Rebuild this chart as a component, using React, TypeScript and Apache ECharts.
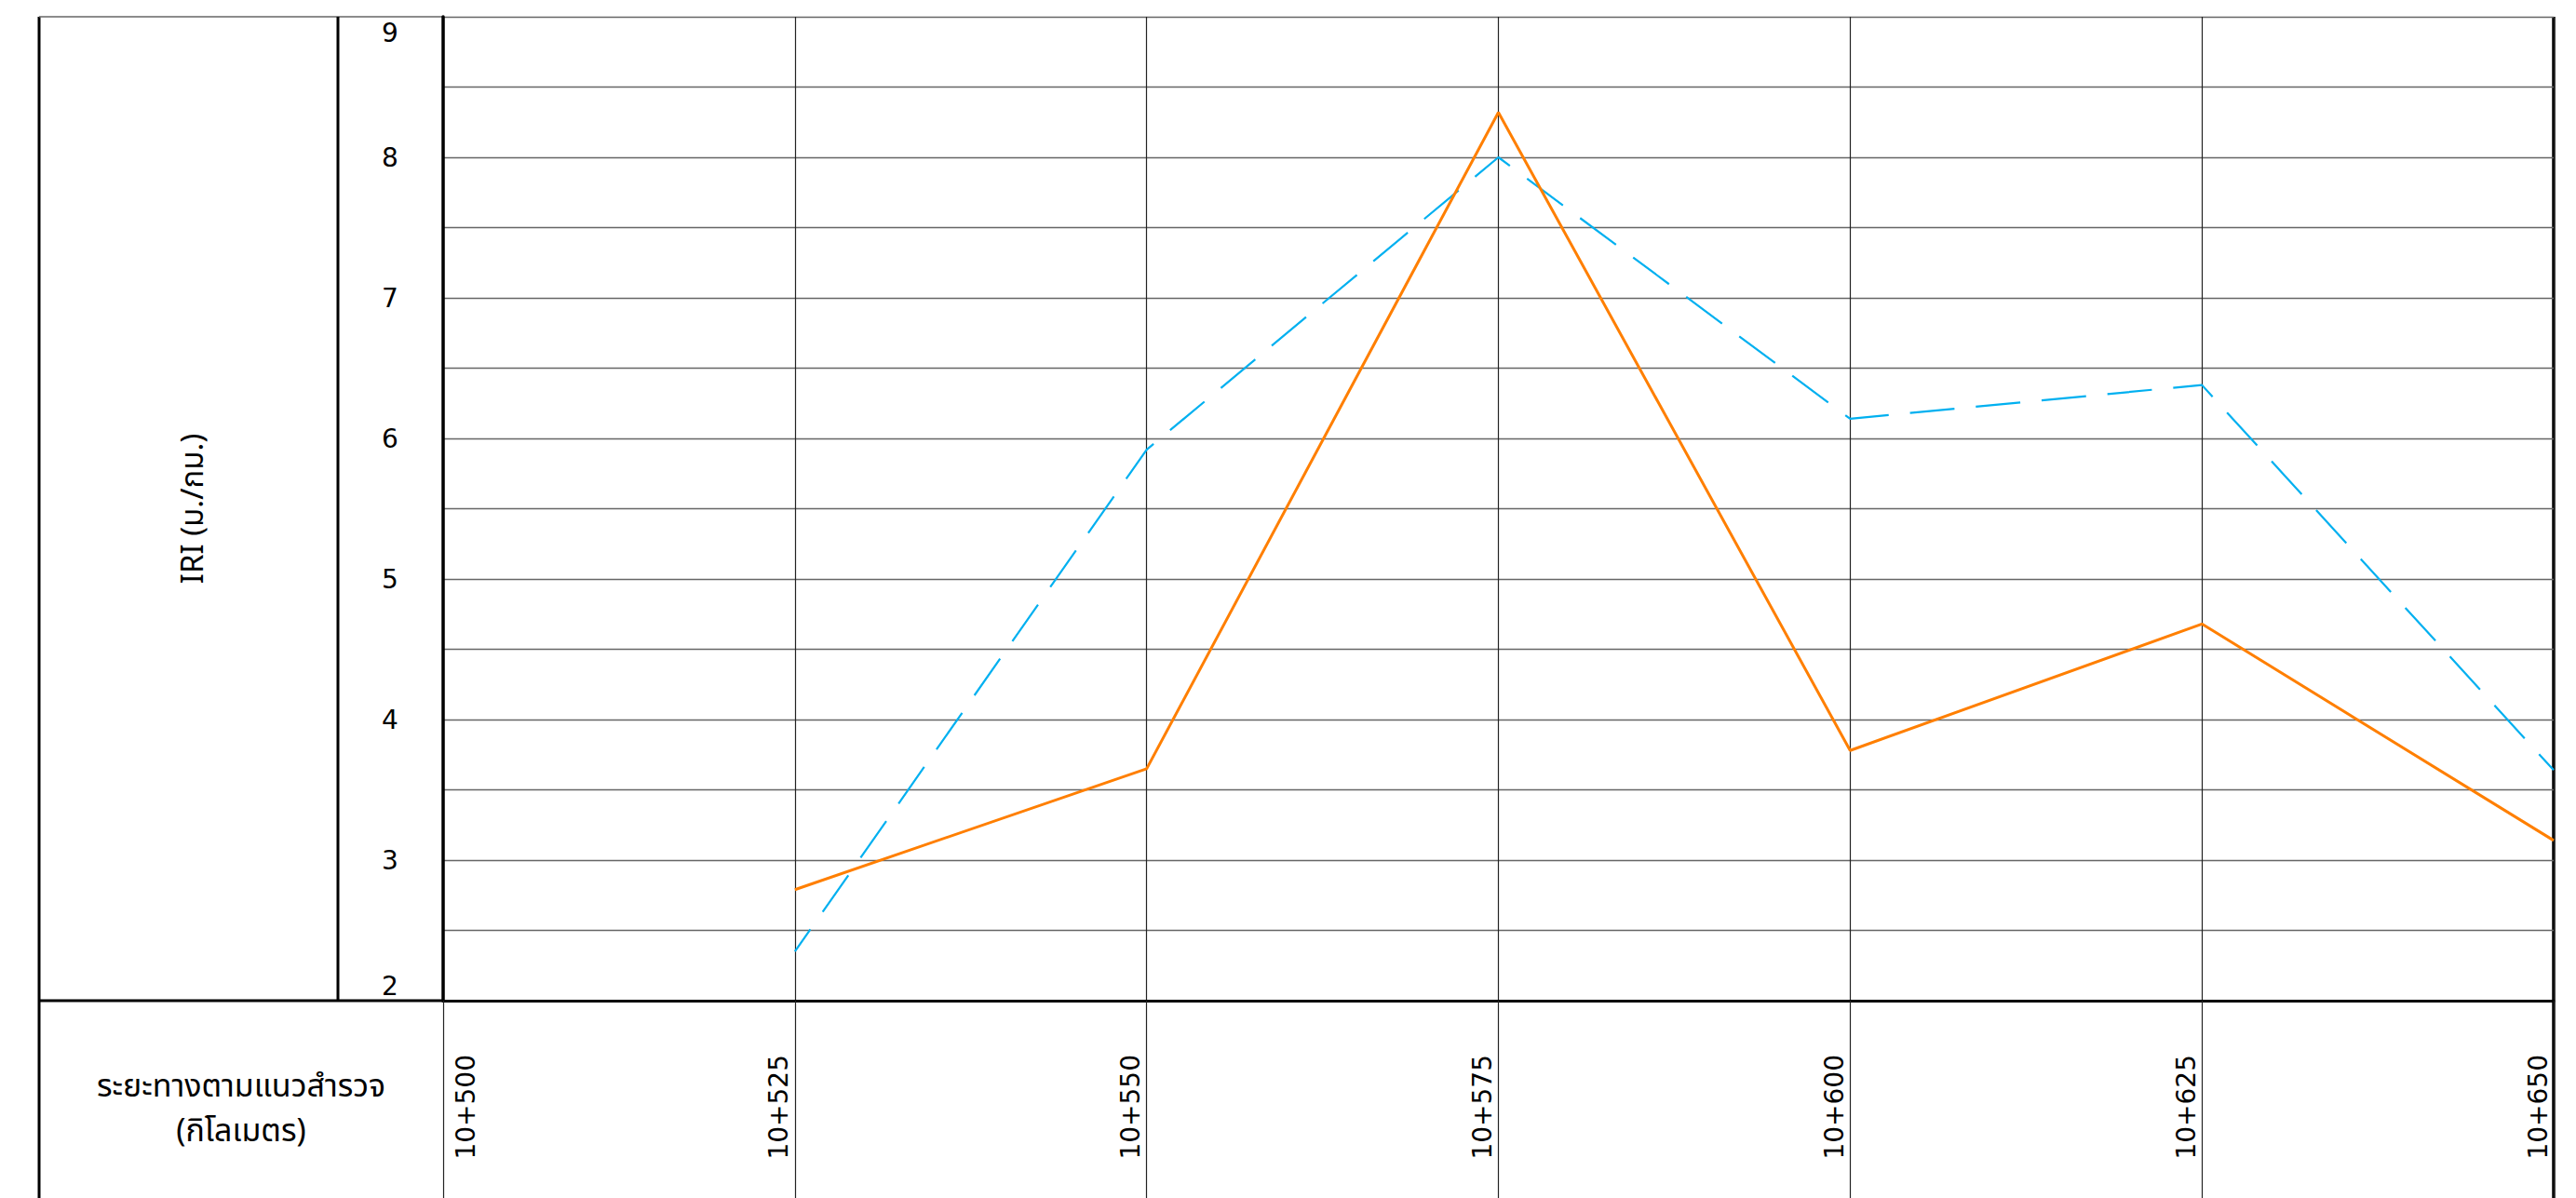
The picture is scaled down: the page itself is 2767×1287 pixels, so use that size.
import React, { useEffect, useRef } from 'react';
import * as echarts from 'echarts';

// ---- data ----
const categories = ['10+500', '10+525', '10+550', '10+575', '10+600', '10+625', '10+650'];
const seriesOrange: (number | null)[] = [null, 2.79, 3.65, 8.32, 3.78, 4.68, 3.14];
const seriesBlue: (number | null)[] = [null, 2.35, 5.92, 8.0, 6.14, 6.38, 3.64];
const yMin = 2;
const yMax = 9;
const yInterval = 1;
const yAxisTitle = 'IRI (ม./กม.)';
const xAxisTitleLines = ['ระยะทางตามแนวสำรวจ', '(กิโลเมตร)'];

const NUM_FONT = '"DejaVu Sans", "Noto Sans", sans-serif';
const THAI_FONT = '"Noto Sans Thai", "Noto Sans Thai UI", "Loma", "Garuda", "Norasi", "Noto Sans", sans-serif';

export default function App() {
  const ref = useRef<HTMLDivElement>(null);

  useEffect(() => {
    if (!ref.current) return;
    const chart = echarts.init(ref.current, null, { renderer: 'svg' });
    const W = 2767;
    const H = 1287;
    const gl = 476;
    const gt = 18;
    const gr = 2743;
    const gb = 1075;
    const outerL = 42;
    const divX = 363;
    const titleX = (outerL + gl) / 2 - 0;

    const option: any = {
      animation: false,
      backgroundColor: '#ffffff',
      grid: { left: gl, top: gt, right: W - gr, bottom: H - gb, show: false },
      xAxis: {
        type: 'category',
        data: categories,
        boundaryGap: false,
        axisLine: { show: true, lineStyle: { color: '#000', width: 3 } },
        axisTick: { show: true, alignWithLabel: true, length: H - gb, lineStyle: { color: '#222', width: 1.2 } },
        splitLine: { show: true, lineStyle: { color: '#222', width: 1.2 } },
        axisLabel: {
          interval: 0,
          rotate: 90,
          margin: 58,
          color: '#000',
          fontSize: 28,
          fontFamily: NUM_FONT,
          formatter: (v: string, i: number) => (i === 0 ? `{f|${v}}` : `{a|${v}}`),
          rich: {
            f: { fontSize: 28, fontFamily: NUM_FONT, color: '#000', padding: [48, 0, 0, 0] },
            a: { fontSize: 28, fontFamily: NUM_FONT, color: '#000', padding: [0, 0, 34, 0] },
          },
        },
      },
      yAxis: {
        type: 'value',
        min: yMin,
        max: yMax,
        interval: yInterval,
        name: yAxisTitle,
        nameLocation: 'middle',
        nameRotate: 90,
        nameGap: 252,
        nameTextStyle: { color: '#000', fontSize: 33, fontFamily: THAI_FONT },
        axisLine: { show: true, lineStyle: { color: '#000', width: 3.5 } },
        axisTick: { show: false },
        splitLine: { show: true, lineStyle: { color: '#666', width: 1.3 } },
        minorTick: { show: false, splitNumber: 2 },
        minorSplitLine: { show: true, lineStyle: { color: '#666', width: 1.3 } },
        axisLabel: {
          margin: 57,
          align: 'center',
          color: '#000',
          fontSize: 28,
          fontFamily: NUM_FONT,
          formatter: (v: number) => (v === yMax ? `{t|${v}}` : v === yMin ? `{b|${v}}` : `{m|${v}}`),
          rich: {
            t: { fontSize: 28, fontFamily: NUM_FONT, color: '#000', padding: [34, 0, 0, 0] },
            b: { fontSize: 28, fontFamily: NUM_FONT, color: '#000', padding: [0, 0, 32, 0] },
            m: { fontSize: 28, fontFamily: NUM_FONT, color: '#000' },
          },
        },
      },
      series: [
        {
          name: 'blue',
          type: 'line',
          data: seriesBlue,
          symbol: 'none',
          showSymbol: false,
          connectNulls: false,
          lineStyle: { color: '#00B0F0', width: 2.2, type: [48, 23], dashOffset: 19 },
          z: 3,
        },
        {
          name: 'orange',
          type: 'line',
          data: seriesOrange,
          symbol: 'none',
          showSymbol: false,
          connectNulls: false,
          lineStyle: { color: '#FF7F00', width: 3 },
          z: 4,
        },
      ],
      graphic: [
        { type: 'line', silent: true, shape: { x1: outerL, y1: gt, x2: outerL, y2: H }, style: { stroke: '#000', lineWidth: 3 } },
        { type: 'line', silent: true, shape: { x1: outerL, y1: gt, x2: gl, y2: gt }, style: { stroke: '#666', lineWidth: 1.5 } },
        { type: 'line', silent: true, shape: { x1: divX, y1: gt, x2: divX, y2: gb }, style: { stroke: '#000', lineWidth: 3 } },
        { type: 'line', silent: true, shape: { x1: outerL, y1: gb, x2: gl, y2: gb }, style: { stroke: '#000', lineWidth: 3 } },
        { type: 'line', silent: true, shape: { x1: gr, y1: gt, x2: gr, y2: H }, style: { stroke: '#000', lineWidth: 3.5 } },
        {
          type: 'text',
          silent: true,
          x: titleX,
          y: 1167,
          style: {
            text: xAxisTitleLines[0],
            fill: '#000',
            fontSize: 34,
            fontFamily: THAI_FONT,
            align: 'center',
            verticalAlign: 'middle',
          },
        },
        {
          type: 'text',
          silent: true,
          x: titleX,
          y: 1215,
          style: {
            text: xAxisTitleLines[1],
            fill: '#000',
            fontSize: 34,
            fontFamily: THAI_FONT,
            align: 'center',
            verticalAlign: 'middle',
          },
        },
      ],
    };

    chart.setOption(option);
    return () => chart.dispose();
  }, []);

  return (
    <div
      ref={ref}
      style={{ position: 'fixed', left: 0, top: 0, width: 2767, height: 1287, background: '#fff' }}
    />
  );
}
